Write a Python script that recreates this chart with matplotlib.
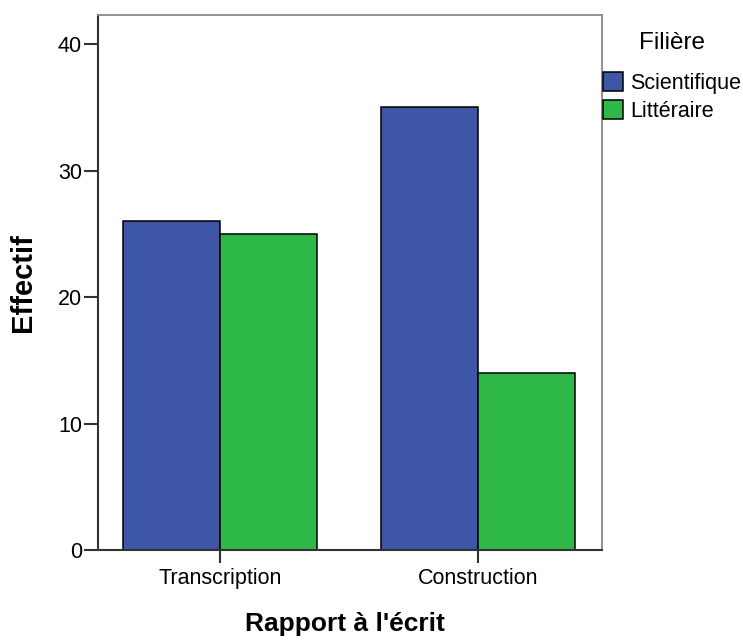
import matplotlib.pyplot as plt
import numpy as np

plt.rcParams['font.family'] = ['Liberation Sans', 'DejaVu Sans']

categories = ['Transcription', 'Construction']
series = ['Scientifique', 'Littéraire']
values = {
    'Scientifique': [26, 35],
    'Littéraire': [25, 14],
}
colors = {'Scientifique': '#3D56A6', 'Littéraire': '#2EB848'}


def main():
    fig = plt.figure(figsize=(7.43, 6.41), dpi=100)
    ax = fig.add_axes([0.1319, 0.1420, 0.6783, 0.8346])

    x = np.arange(len(categories))
    width = 0.375
    offsets = [-width / 2, width / 2]
    handles = []
    for name, off in zip(series, offsets):
        h = ax.bar(x + off, values[name], width, color=colors[name],
                   edgecolor='black', linewidth=1.1, label=name)
        handles.append(h)

    ax.set_xlim(-0.473, 1.481)
    ax.set_ylim(0, 42.3)
    ax.set_yticks([0, 10, 20, 30, 40])
    ax.set_xticks(x)
    ax.set_xticklabels(categories)
    ax.tick_params(axis='both', direction='out', length=10, width=1.5,
                   labelsize=15.5, color='#333333')
    ax.tick_params(axis='y', pad=1.5)
    ax.tick_params(axis='x', length=9, pad=4)

    for side in ['top', 'right']:
        ax.spines[side].set_color('#888888')
        ax.spines[side].set_linewidth(1.3)
    for side in ['left', 'bottom']:
        ax.spines[side].set_color('#333333')
        ax.spines[side].set_linewidth(1.5)

    ax.set_ylabel('Effectif', fontsize=21, fontweight='bold')
    ax.yaxis.set_label_coords(-0.149, 0.5)
    ax.yaxis.label.set_va('center')
    ax.set_xlabel("Rapport à l'écrit", fontsize=19, fontweight='bold')
    ax.xaxis.set_label_coords(0.49, -0.138)
    ax.xaxis.label.set_va('center')

    # legend title drawn separately to get SPSS-like spacing
    fig.text(672 / 743, 1 - 43 / 641, 'Filière', fontsize=17.5,
             ha='center', va='center')
    fig.legend(handles=handles, labels=series,
               loc='upper left', bbox_to_anchor=(0.8116, 1 - 72 / 641),
               frameon=False, fontsize=15.5,
               handlelength=0.95, handleheight=0.95, handletextpad=0.3,
               labelspacing=0.3, borderaxespad=0, borderpad=0)

    fig.savefig('out.png', dpi=100)


if __name__ == '__main__':
    main()
